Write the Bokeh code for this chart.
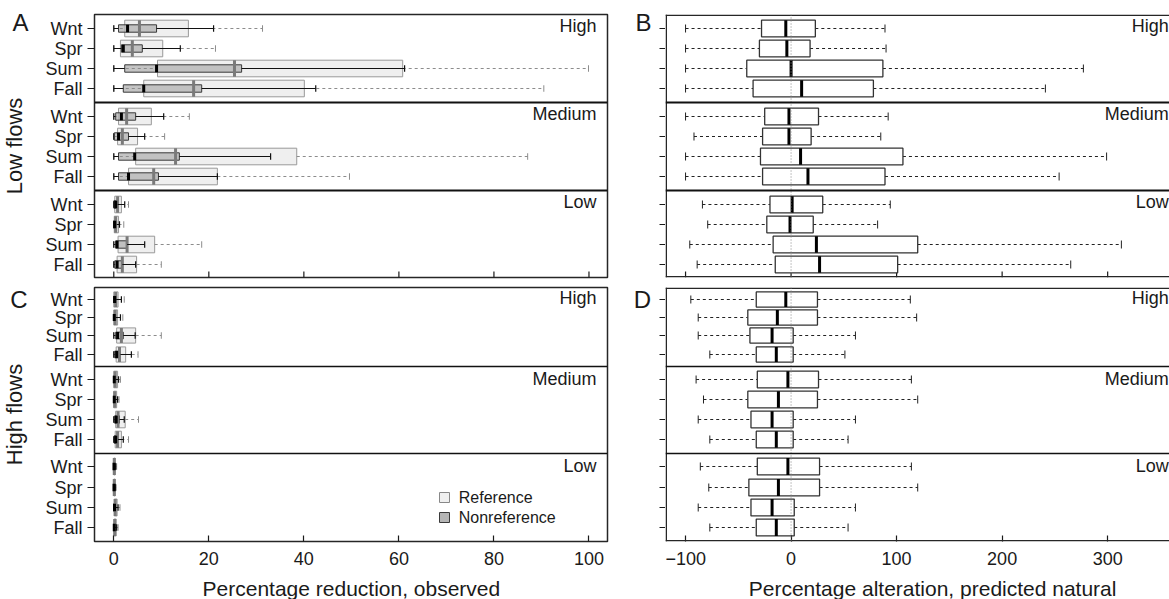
import math
from bokeh.plotting import figure
from bokeh.models import Range1d, FixedTicker, Span, ColumnDataSource
from bokeh.layouts import column, row
from bokeh.embed import file_html
from bokeh.resources import INLINE
from bokeh.core.properties import value

FONT = "Liberation Sans"
INK = "#1a1a1a"
FRAME = "#262626"

seasons = ["Wnt", "Spr", "Sum", "Fall"]
levels = ["High", "Medium", "Low"]

# (lower whisker, Q1, median, Q3, upper whisker); rows: High Wnt..Fall, Medium Wnt..Fall, Low Wnt..Fall
low_ref = [
    (0, 2.3, 5.4, 15.7, 31.3), (0, 1.4, 3.9, 10.3, 21.4), (0, 9.2, 25.4, 60.8, 99.9), (0, 6.3, 16.8, 40.1, 90.5),
    (0, 1.0, 2.7, 7.9, 15.9), (0, 0.8, 1.8, 5.0, 10.7), (0, 4.6, 13.0, 38.5, 87.1), (0, 3.1, 8.4, 21.8, 49.6),
    (0, 0.2, 0.8, 1.6, 3.1), (0, 0.1, 0.4, 1.0, 2.1), (0, 0.9, 2.8, 8.6, 18.5), (0, 0.7, 1.8, 4.8, 10.0),
]
low_nonref = [
    (0, 1.0, 2.9, 9.0, 21.0), (0, 1.6, 2.0, 6.0, 14.0), (0, 2.3, 9.0, 26.9, 61.2), (0, 2.0, 6.3, 18.5, 42.5),
    (0, 0.4, 1.6, 4.6, 10.5), (0, 0.1, 1.0, 3.1, 6.5), (0, 1.0, 4.4, 13.8, 33.0), (0, 1.0, 3.1, 9.4, 21.8),
    (0, 0.0, 0.4, 0.8, 2.3), (0, 0.0, 0.2, 0.6, 1.2), (0, 0.4, 0.7, 2.8, 6.5), (0, 0.2, 0.7, 1.8, 4.6),
]
high_ref = [
    (0, 0.0, 0.4, 0.9, 2.2), (0, 0.0, 0.3, 0.8, 1.9), (0, 0.6, 1.6, 4.6, 10.0), (0, 0.5, 1.2, 2.5, 5.1),
    (0, 0.0, 0.3, 0.8, 1.4), (0, 0.0, 0.2, 0.6, 1.1), (0, 0.4, 0.9, 2.4, 5.2), (0, 0.3, 0.8, 1.6, 3.1),
    (0, 0.0, 0.1, 0.3, 0.6), (0, 0.0, 0.1, 0.3, 0.5), (0, 0.1, 0.3, 0.7, 1.3), (0, 0.05, 0.2, 0.5, 0.9),
]
high_nonref = [
    (0, 0.0, 0.2, 0.5, 1.6), (0, 0.0, 0.1, 0.4, 1.4), (0, 0.4, 0.8, 2.0, 4.5), (0, 0.2, 0.6, 1.4, 3.7),
    (0, 0.0, 0.1, 0.4, 1.0), (0, 0.0, 0.1, 0.3, 0.8), (0, 0.2, 0.5, 1.2, 2.2), (0, 0.1, 0.4, 0.9, 2.0),
    (0, 0.0, 0.05, 0.2, 0.4), (0, 0.0, 0.05, 0.2, 0.3), (0, 0.0, 0.15, 0.4, 0.9), (0, 0.0, 0.1, 0.3, 0.6),
]
low_alt = [
    (-100, -28, -5, 23, 89), (-100, -30, -4, 18, 90), (-100, -42, 0, 87, 277), (-100, -36, 10, 78, 241),
    (-100, -25, -2, 26, 92), (-92, -27, -2, 19, 85), (-100, -29, 9, 106, 299), (-100, -27, 16, 89, 254),
    (-84, -20, 1, 30, 94), (-79, -23, -1, 21, 82), (-96, -17, 24, 120, 313), (-89, -15, 27, 101, 265),
]
high_alt = [
    (-95, -33, -5, 25, 113), (-88, -41, -13, 25, 119), (-88, -39, -18, 2, 61), (-77, -33, -14, 2, 51),
    (-90, -32, -3, 26, 114), (-83, -41, -12, 25, 120), (-88, -38, -18, 2, 61), (-77, -33, -14, 2, 54),
    (-86, -32, -3, 27, 114), (-78, -40, -12, 27, 120), (-88, -38, -18, 3, 61), (-77, -33, -14, 3, 54),
]
reduction_ticks = [0, 20, 40, 60, 80, 100]
alteration_ticks = [-100, 0, 100, 200, 300]
legend_names = ["Reference", "Nonreference"]
panel_letters = ["A", "B", "C", "D"]
flow_titles = ["Low flows", "High flows"]
x_titles = ["Percentage reduction, observed", "Percentage alteration, predicted natural"]

# vertical placement of the 12 rows, in frame pixels measured from the top
TOP_ROWS = [14, 34, 54, 74, 102, 122, 142, 162, 190, 210, 230, 250]
TOP_STEP = [20] * 12
TOP_H = 263
TOP_Y0 = 14
TOP_DIV = [88, 176]
TOP_LAB = [11.5, 99.5, 187.5]

BOT_ROWS = [12, 30, 48, 67, 92, 112, 132, 152, 179, 200, 220, 240]
BOT_STEP = [18.3] * 4 + [20] * 4 + [20.4] * 4
BOT_H = 254
BOT_Y0 = 287
BOT_DIV = [79, 166]
BOT_LAB = [10, 91, 178.5]

LEFT_X = (-4.06, 103.9)
RIGHT_X = (-119.0, 358.6)
PX_PER_ALT = 1.055


def base_fig(width, height, borders, xr, h, xaxis=True, yaxis=True):
    l, r, t, b = borders
    p = figure(width=width, height=height, x_range=Range1d(*xr), y_range=Range1d(h, 0),
               output_backend="svg", toolbar_location=None,
               x_axis_location="below" if xaxis else None,
               y_axis_location="left" if yaxis else None,
               min_border_left=l, min_border_right=r, min_border_top=t, min_border_bottom=b)
    p.xgrid.visible = False
    p.ygrid.visible = False
    p.outline_line_color = None
    p.background_fill_color = "white"
    p.border_fill_color = "white"
    return p


def strip_fig(width, height):
    p = figure(width=width, height=height, x_range=Range1d(0, width), y_range=Range1d(height, 0),
               output_backend="svg", toolbar_location=None, x_axis_location=None, y_axis_location=None,
               min_border=0)
    p.grid.visible = False
    p.outline_line_color = None
    p.background_fill_color = "white"
    p.border_fill_color = "white"
    return p


def style_season_axis(p, rows):
    ax = p.yaxis[0]
    ax.ticker = FixedTicker(ticks=rows)
    ax.major_label_overrides = {r: seasons[i % 4] for i, r in enumerate(rows)}
    ax.minor_tick_line_color = None
    ax.major_tick_in = 0
    ax.major_tick_out = 7
    ax.major_tick_line_color = INK
    ax.major_tick_line_width = 1.2
    ax.major_label_standoff = 5
    ax.major_label_text_font = FONT
    ax.major_label_text_font_size = "18px"
    ax.major_label_text_color = INK
    ax.axis_line_color = None


def style_value_axis(p, ticks):
    ax = p.xaxis[0]
    ax.ticker = FixedTicker(ticks=ticks)
    ax.major_label_overrides = {t: (str(t) if t >= 0 else "\u2212" + str(-t)) for t in ticks}
    ax.minor_tick_line_color = None
    ax.major_tick_in = 6
    ax.major_tick_out = 0
    ax.major_tick_line_color = INK
    ax.major_tick_line_width = 1.2
    ax.major_label_standoff = 10
    ax.major_label_text_font = FONT
    ax.major_label_text_font_size = "18px"
    ax.major_label_text_color = INK
    ax.axis_line_color = None


def inner_ticks(p, ticks, h):
    # tick marks pointing into the frame along its lower edge
    p.segment(x0=ticks, y0=[h] * len(ticks), x1=ticks, y1=[h - 6] * len(ticks),
              line_color=INK, line_width=1.2)


def stats_source(stats, rows, steps, box_frac, cap):
    lo, q1, md, q3, hi = (list(c) for c in zip(*stats))
    hh = [s * box_frac for s in steps]
    return ColumnDataSource(dict(
        y=rows, h=hh, lo=lo, q1=q1, md=md, q3=q3, hi=hi,
        y0=[r - v / 2 for r, v in zip(rows, hh)], y1=[r + v / 2 for r, v in zip(rows, hh)],
        c0=[r - cap / 2 for r in rows], c1=[r + cap / 2 for r in rows]))


def draw_pair(p, ref, nonref, rows, steps):
    rs = stats_source(ref, rows, steps, 0.83, 6.5)
    ns = stats_source(nonref, rows, steps, 0.37, 6.5)
    p.hbar(y="y", height="h", left="q1", right="q3", source=rs,
           fill_color="#efefef", line_color="#999999", line_width=1)
    p.hbar(y="y", height="h", left="q1", right="q3", source=ns,
           fill_color="#b5b5b5", fill_alpha=0.8, line_color="#3a3a3a", line_width=1)
    for a, b in (("lo", "q1"), ("q3", "hi")):
        p.segment(x0=a, y0="y", x1=b, y1="y", source=rs, line_color="#8c8c8c", line_dash="3 3", line_width=1)
    for c in ("lo", "hi"):
        p.segment(x0=c, y0="c0", x1=c, y1="c1", source=rs, line_color="#8c8c8c", line_width=1)
    p.segment(x0="md", y0="y0", x1="md", y1="y1", source=rs, line_color="#7a7a7a", line_width=3)
    for a, b in (("lo", "q1"), ("q3", "hi")):
        p.segment(x0=a, y0="y", x1=b, y1="y", source=ns, line_color="#111111", line_width=1.2)
    for c in ("lo", "hi"):
        p.segment(x0=c, y0="c0", x1=c, y1="c1", source=ns, line_color="#111111", line_width=1.2)
    p.segment(x0="md", y0="y0", x1="md", y1="y1", source=ns, line_color="#000000", line_width=3)


def draw_single(p, stats, rows, steps):
    s = stats_source(stats, rows, steps, 0.83, 8)
    for a, b in (("lo", "q1"), ("q3", "hi")):
        p.segment(x0=a, y0="y", x1=b, y1="y", source=s, line_color="#222222", line_dash="3 3", line_width=1)
    for c in ("lo", "hi"):
        p.segment(x0=c, y0="c0", x1=c, y1="c1", source=s, line_color="#222222", line_width=1)
    p.hbar(y="y", height="h", left="q1", right="q3", source=s,
           fill_color="white", line_color="#333333", line_width=1.3)
    p.segment(x0="md", y0="y0", x1="md", y1="y1", source=s, line_color="#000000", line_width=3)


def dividers(p, locs, width):
    for loc in locs:
        p.add_layout(Span(location=loc, dimension="width", line_color="#111111", line_width=width))


def level_labels(p, x, ys):
    p.text(x=[x] * 3, y=ys, text=levels, text_align="right", text_baseline="middle",
           text_font=value(FONT), text_font_size="18px", text_color=INK)


def left_frame(p):
    p.outline_line_color = FRAME
    p.outline_line_width = 1.5


def right_frame(p, h):
    # open frame on the right: only top, left and bottom edges are drawn
    p.add_layout(Span(location=0.75, dimension="width", line_color=FRAME, line_width=1.5))
    p.add_layout(Span(location=h - 0.75, dimension="width", line_color=FRAME, line_width=1.5))
    p.add_layout(Span(location=RIGHT_X[0] + 0.75 / PX_PER_ALT, dimension="height",
                      line_color=FRAME, line_width=1.5))
    p.add_layout(Span(location=0, dimension="height", line_color="#888888",
                      line_dash="1 2", line_width=1))


# Panel A: low flows, observed reduction
pA = base_fig(584, 282, (58, 13, 14, 5), LEFT_X, TOP_H, xaxis=False)
left_frame(pA)
style_season_axis(pA, TOP_ROWS)
inner_ticks(pA, reduction_ticks, TOP_H)
draw_pair(pA, low_ref, low_nonref, TOP_ROWS, TOP_STEP)
dividers(pA, TOP_DIV, 2)
level_labels(pA, 101.6, TOP_LAB)

# Panel C: high flows, observed reduction
pC = base_fig(584, 295, (58, 13, 5, 36), LEFT_X, BOT_H)
left_frame(pC)
style_season_axis(pC, BOT_ROWS)
style_value_axis(pC, reduction_ticks)
draw_pair(pC, high_ref, high_nonref, BOT_ROWS, BOT_STEP)
dividers(pC, BOT_DIV, 1.5)
level_labels(pC, 101.6, BOT_LAB)
pC.rect(x=[69.6, 69.6], y=[210, 230], width=10, height=10, width_units="screen", height_units="screen",
        fill_color=["#efefef", "#b5b5b5"], line_color=["#888888", "#3a3a3a"], line_width=1)
pC.text(x=[72.6, 72.6], y=[210, 230], text=legend_names, text_align="left", text_baseline="middle",
        text_font=value(FONT), text_font_size="16px", text_color=INK)

# Panel B: low flows, alteration from predicted natural
pB = base_fig(504, 282, (0, 0, 14, 5), RIGHT_X, TOP_H, xaxis=False, yaxis=False)
right_frame(pB, TOP_H)
inner_ticks(pB, alteration_ticks, TOP_H)
draw_single(pB, low_alt, TOP_ROWS, TOP_STEP)
dividers(pB, TOP_DIV, 2)
level_labels(pB, 358.0, TOP_LAB)

# Panel D: high flows, alteration from predicted natural
pD = base_fig(504, 295, (0, 0, 5, 36), RIGHT_X, BOT_H, yaxis=False)
right_frame(pD, BOT_H)
style_value_axis(pD, alteration_ticks)
draw_single(pD, high_alt, BOT_ROWS, BOT_STEP)
dividers(pD, BOT_DIV, 1.5)
level_labels(pD, 358.0, BOT_LAB)

# axis titles under the bottom panels, sharing the x scales of the panels above
tL = base_fig(584, 22, (58, 13, 0, 0), LEFT_X, 22, xaxis=False, yaxis=False)
tL.text(x=[50.0], y=[11], text=[x_titles[0]], text_align="center", text_baseline="middle",
        text_font=value(FONT), text_font_size="21px", text_color=INK)
tR = base_fig(504, 22, (0, 0, 0, 0), RIGHT_X, 22, xaxis=False, yaxis=False)
tR.text(x=[134.1], y=[11], text=[x_titles[1]], text_align="center", text_baseline="middle",
        text_font=value(FONT), text_font_size="21px", text_color=INK)

# left margin strip: panel letters and flow-type titles
sL = strip_fig(36, 599)
sL.text(x=[20, 18.5], y=[22, 299], text=[panel_letters[0], panel_letters[2]], text_align="center",
        text_baseline="middle", text_font=value(FONT), text_font_size="24px", text_color=INK)
sL.text(x=[14, 14], y=[TOP_Y0 + TOP_H / 2, BOT_Y0 + BOT_H / 2], text=flow_titles, angle=math.pi / 2,
        text_align="center", text_baseline="middle", text_font=value(FONT), text_font_size="22px",
        text_color=INK)

# middle strip: panel letters and the season tick marks of the right-hand panels
sM = strip_fig(45, 599)
sM.text(x=[23, 22], y=[22, 299], text=[panel_letters[1], panel_letters[3]], text_align="center",
        text_baseline="middle", text_font=value(FONT), text_font_size="24px", text_color=INK)
tick_y = [TOP_Y0 + r for r in TOP_ROWS] + [BOT_Y0 + r for r in BOT_ROWS]
sM.segment(x0=[39] * len(tick_y), y0=tick_y, x1=[45] * len(tick_y), y1=tick_y,
           line_color=INK, line_width=1.2)

layout = row(sL, column(pA, pC, tL), sM, column(pB, pD, tR))
open("out.html", "w").write(file_html(layout, INLINE))
